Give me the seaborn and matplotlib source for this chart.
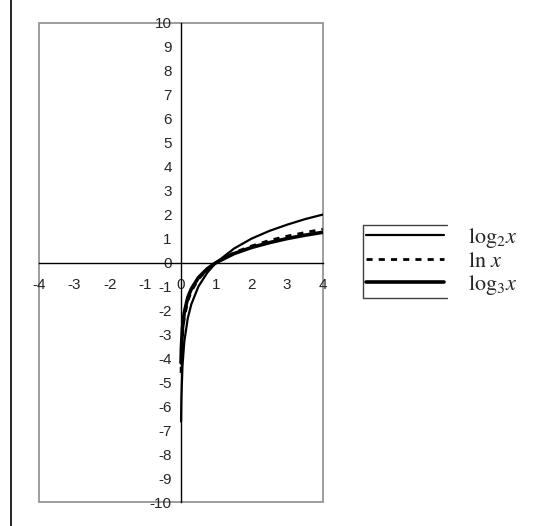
import numpy as np
import pandas as pd
import seaborn as sns
import matplotlib
matplotlib.use("Agg")
import matplotlib.pyplot as plt
from matplotlib.lines import Line2D

# values
x_vals = [0.01, 0.02, 0.05, 0.1, 0.2, 0.3, 0.5, 0.75, 1.0, 1.5, 2.0, 2.5, 3.0, 3.5, 4.0]
log2_vals = [-6.64, -5.64, -4.32, -3.32, -2.32, -1.74, -1.0, -0.42, 0.0, 0.58, 1.0, 1.32, 1.58, 1.81, 2.0]
ln_vals = [-4.61, -3.91, -3.0, -2.3, -1.61, -1.2, -0.69, -0.29, 0.0, 0.41, 0.69, 0.92, 1.1, 1.25, 1.39]
log3_vals = [-4.19, -3.56, -2.73, -2.1, -1.46, -1.1, -0.63, -0.26, 0.0, 0.37, 0.63, 0.83, 1.0, 1.14, 1.26]
x_ticks = [-4, -3, -2, -1, 0, 1, 2, 3, 4]
y_ticks = list(range(-10, 11))
labels = [r"$\mathrm{log}_2x$", r"$\mathrm{ln}\ x$", r"$\mathrm{log}_3x$"]

sns.set_style("white")
plt.rcParams['font.family'] = ['Liberation Sans', 'DejaVu Sans']
plt.rcParams['mathtext.fontset'] = 'stix'

fig = plt.figure(figsize=(5.49, 5.26), dpi=100)
W, H = 549, 526
ax = fig.add_axes([38.7 / W, 1 - 502 / H, (322.7 - 38.7) / W, (502 - 23) / H])

styles = [dict(lw=1.6, ls="-"), dict(lw=2.0, ls=(0, (2.2, 2.2))), dict(lw=2.6, ls="-")]
for yv, lab, st in zip([log2_vals, ln_vals, log3_vals], labels, styles):
    sns.lineplot(x=x_vals, y=yv, ax=ax, color="black", linewidth=st["lw"],
                 linestyle=st["ls"], label=lab, legend=False)

ax.set_xlim(-4, 4)
ax.set_ylim(-10, 10)
ax.set_xticks(x_ticks)
ax.set_yticks(y_ticks)
ax.set_xticklabels([str(v) for v in x_ticks])
ax.set_yticklabels([str(v) for v in y_ticks])

# axes cross at origin, gray frame around plot area
for s in ["top", "right"]:
    ax.spines[s].set_visible(False)
ax.spines["left"].set_position(("data", 0))
ax.spines["bottom"].set_position(("data", 0))
for s in ["left", "bottom"]:
    ax.spines[s].set_color("black")
    ax.spines[s].set_linewidth(1.0)
ax.patch.set_edgecolor("#8c8c8c")
ax.patch.set_linewidth(1.2)

ax.tick_params(axis="both", direction="out", length=4.5, width=1.0, color="black",
               labelsize=11, pad=2)
ax.tick_params(axis="x", pad=7)

# legend (frame drawn only around the keys)
handles = [Line2D([], [], color="black", linewidth=st["lw"], linestyle=st["ls"]) for st in styles]
leg = fig.legend(handles, labels, loc="upper left", bbox_to_anchor=(366 / W, 1 - 226 / H),
                 frameon=False, fontsize=16, handlelength=3.5, handletextpad=1.1,
                 labelspacing=0.05, borderaxespad=0, borderpad=0.0)
frame = Line2D([447 / W, 363 / W, 363 / W, 447 / W],
               [1 - 225 / H, 1 - 225 / H, 1 - 298 / H, 1 - 298 / H],
               transform=fig.transFigure, color="#404040", linewidth=1.0)
fig.add_artist(frame)

# left page edge line
fig.add_artist(Line2D([11 / W, 11 / W], [0, 1], transform=fig.transFigure,
                      color="black", linewidth=1.2))

fig.savefig("out.png", dpi=100)
